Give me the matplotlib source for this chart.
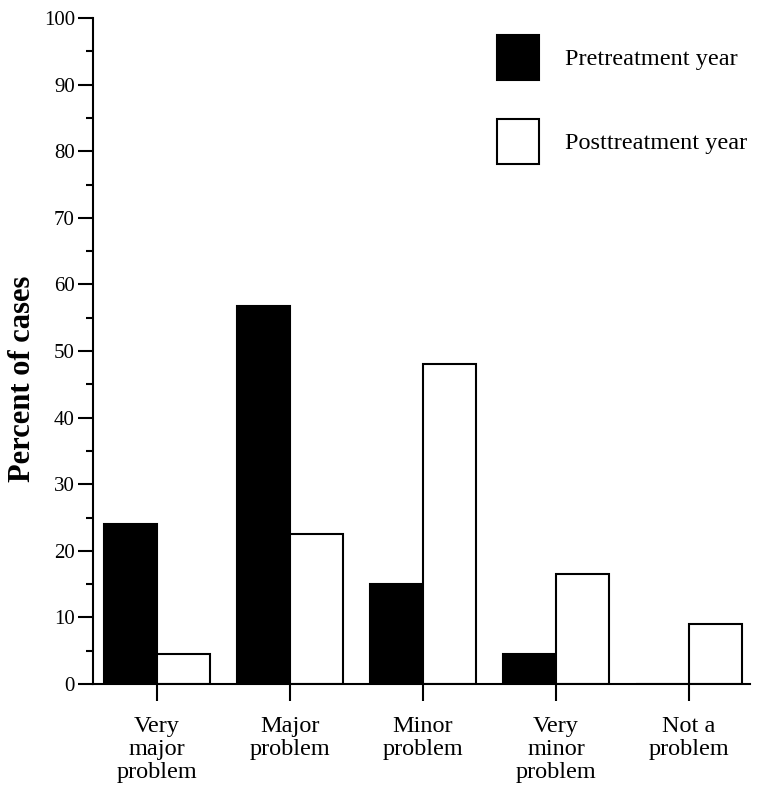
#!/usr/bin/env python3
"""Percent of cases by problem severity, pre- vs posttreatment year."""

import matplotlib

matplotlib.use("Agg")
import matplotlib.pyplot as plt
import numpy as np
from matplotlib.patches import Patch

CATEGORIES = [
    "Very\nmajor\nproblem",
    "Major\nproblem",
    "Minor\nproblem",
    "Very\nminor\nproblem",
    "Not a\nproblem",
]
PRETREATMENT = [24, 56.8, 15, 4.5, 0]
POSTTREATMENT = [4.5, 22.5, 48, 16.5, 9]
SERIES_LABELS = ["Pretreatment year", "Posttreatment year"]

plt.rcParams["font.family"] = ["Liberation Serif", "DejaVu Serif"]


def main() -> int:
    fig = plt.figure(figsize=(7.58, 7.88), dpi=100)
    ax = fig.add_axes([0.1227, 0.132, 0.867, 0.845])

    x = np.arange(len(CATEGORIES))
    width = 0.4
    ax.bar(x - width / 2, PRETREATMENT, width, color="black",
           edgecolor="black", linewidth=1.5)
    ax.bar(x + width / 2, POSTTREATMENT, width, color="white",
           edgecolor="black", linewidth=1.5)

    ax.set_xlim(-0.48, 4.46)
    ax.set_ylim(0, 100)

    for side in ("top", "right"):
        ax.spines[side].set_visible(False)
    for side in ("left", "bottom"):
        ax.spines[side].set_linewidth(1.5)

    ax.set_yticks(np.arange(0, 101, 10))
    ax.set_yticks(np.arange(5, 100, 10), minor=True)
    ax.tick_params(axis="y", which="major", length=11, width=1.5,
                   labelsize=15, pad=2)
    ax.tick_params(axis="y", which="minor", length=5, width=1.5)

    ax.set_xticks(x)
    ax.set_xticklabels(CATEGORIES, fontsize=17.5, linespacing=1.12)
    ax.tick_params(axis="x", length=12, width=1.5, pad=11)

    ax.set_ylabel("Percent of cases", fontsize=22, fontweight="bold")
    ax.yaxis.set_label_coords(-0.085, 0.458)

    handles = [
        Patch(facecolor="black", edgecolor="black", linewidth=1.5),
        Patch(facecolor="white", edgecolor="black", linewidth=1.5),
    ]
    ax.legend(handles, SERIES_LABELS, loc="upper left",
              bbox_to_anchor=(0.615, 0.9745), frameon=False, fontsize=17.5,
              handlelength=1.73, handleheight=2.46, handletextpad=1.07,
              labelspacing=1.6, borderpad=0, borderaxespad=0)

    fig.savefig("out.png", dpi=100, facecolor="white")
    plt.close(fig)
    return 0


if __name__ == "__main__":
    raise SystemExit(main())
